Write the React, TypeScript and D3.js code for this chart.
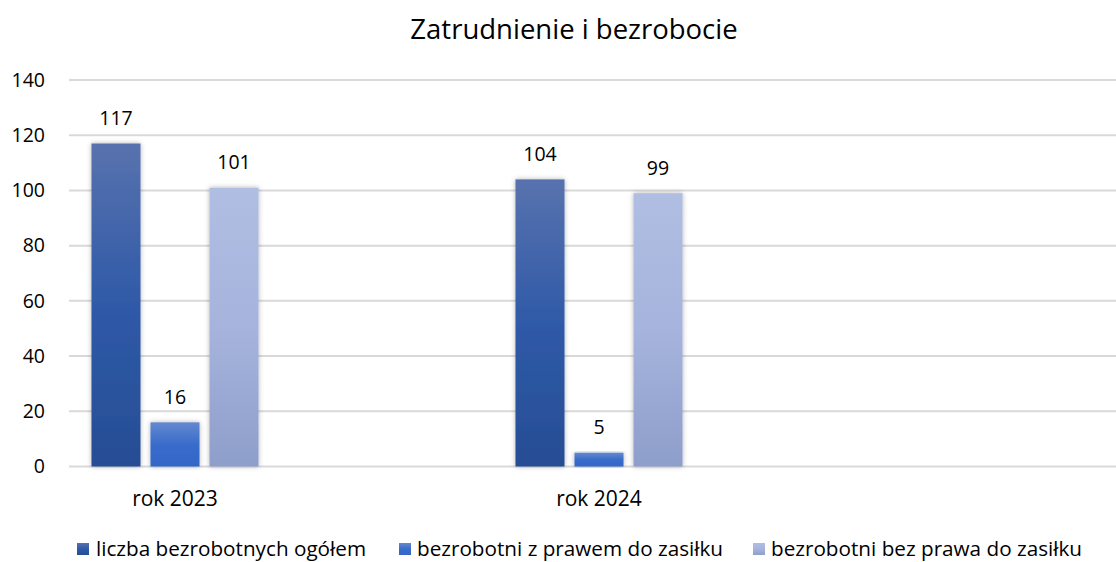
import React from "react";
import * as d3 from "d3";

const categories = ["rok 2023", "rok 2024"];
const seriesNames = [
  "liczba bezrobotnych ogółem",
  "bezrobotni z prawem do zasiłku",
  "bezrobotni bez prawa do zasiłku",
];
const ogolem = [117, 104];
const zPrawem = [16, 5];
const bezPrawa = [101, 99];
const yTicks = [0, 20, 40, 60, 80, 100, 120, 140];
const title = "Zatrudnienie i bezrobocie";

const gradients = [
  { id: "g0", top: "#5872AE", mid: "#2F5AA8", bottom: "#264D94" },
  { id: "g1", top: "#6488D0", mid: "#3A6CCB", bottom: "#3266C7" },
  { id: "g2", top: "#B0BEE3", mid: "#A6B4DD", bottom: "#8E9ECA" },
];

const FONT = "'Open Sans', 'Liberation Sans', sans-serif";

export default function App() {
  const W = 1116;
  const H = 562;
  const plotLeft = 69;
  const plotRight = 1116;
  const values = [ogolem, zPrawem, bezPrawa];

  const y = d3.scaleLinear().domain([0, 140]).range([466.5, 80]);
  const x0 = d3
    .scaleBand<string>()
    .domain(categories)
    .range([69, 705])
    .paddingInner(0.606)
    .paddingOuter(0.053);
  const x1 = d3
    .scaleBand<string>()
    .domain(seriesNames)
    .range([0, x0.bandwidth()])
    .paddingInner(0.169)
    .paddingOuter(0);

  const legendItems = [
    { x: 77, tx: 96 },
    { x: 399, tx: 417 },
    { x: 753, tx: 771 },
  ];

  return (
    <svg
      width={W}
      height={H}
      style={{ position: "absolute", left: 0, top: 0, background: "#fff" }}
      fontFamily={FONT}
    >
      <defs>
        {gradients.map((g) => (
          <linearGradient key={g.id} id={g.id} x1="0" y1="0" x2="0" y2="1">
            <stop offset="0%" stopColor={g.top} />
            <stop offset="50%" stopColor={g.mid} />
            <stop offset="100%" stopColor={g.bottom} />
          </linearGradient>
        ))}
        <filter id="shadow" x="-30%" y="-10%" width="160%" height="120%">
          <feDropShadow dx="0" dy="0" stdDeviation="2.5" floodColor="#000" floodOpacity="0.3" />
        </filter>
      </defs>
      <rect x={0} y={0} width={W} height={H} fill="#fff" />

      <text x={574} y={39} textAnchor="middle" fontSize={27.5} fill="#000">
        {title}
      </text>

      {yTicks.map((t) => (
        <g key={t}>
          <line
            x1={plotLeft}
            x2={plotRight}
            y1={y(t)}
            y2={y(t)}
            stroke="#D9D9D9"
            strokeWidth={2}
          />
          <text
            x={45}
            y={y(t)}
            dy="0.35em"
            textAnchor="end"
            fontSize={19.5}
            fill="#000"
          >
            {t}
          </text>
        </g>
      ))}

      {categories.map((c, ci) => (
        <g key={c} transform={`translate(${x0(c)},0)`}>
          {seriesNames.map((s, si) => {
            const v = values[si][ci];
            const bx = x1(s)!;
            return (
              <g key={s}>
                <rect
                  x={bx}
                  y={y(v)}
                  width={x1.bandwidth()}
                  height={y(0) - y(v)}
                  fill={`url(#${gradients[si].id})`}
                  filter="url(#shadow)"
                />
                <text
                  x={bx + x1.bandwidth() / 2}
                  y={y(v) - 18.5}
                  textAnchor="middle"
                  fontSize={19.5}
                  fill="#000"
                >
                  {v}
                </text>
              </g>
            );
          })}
          <text
            x={x0.bandwidth() / 2}
            y={506}
            textAnchor="middle"
            fontSize={21}
            fill="#000"
          >
            {c}
          </text>
        </g>
      ))}

      {seriesNames.map((s, i) => (
        <g key={s}>
          <rect
            x={legendItems[i].x}
            y={543}
            width={12}
            height={12}
            fill={`url(#${gradients[i].id})`}
          />
          <text
            x={legendItems[i].tx}
            y={549}
            dy="0.35em"
            fontSize={20.7}
            fill="#000"
          >
            {s}
          </text>
        </g>
      ))}
    </svg>
  );
}
